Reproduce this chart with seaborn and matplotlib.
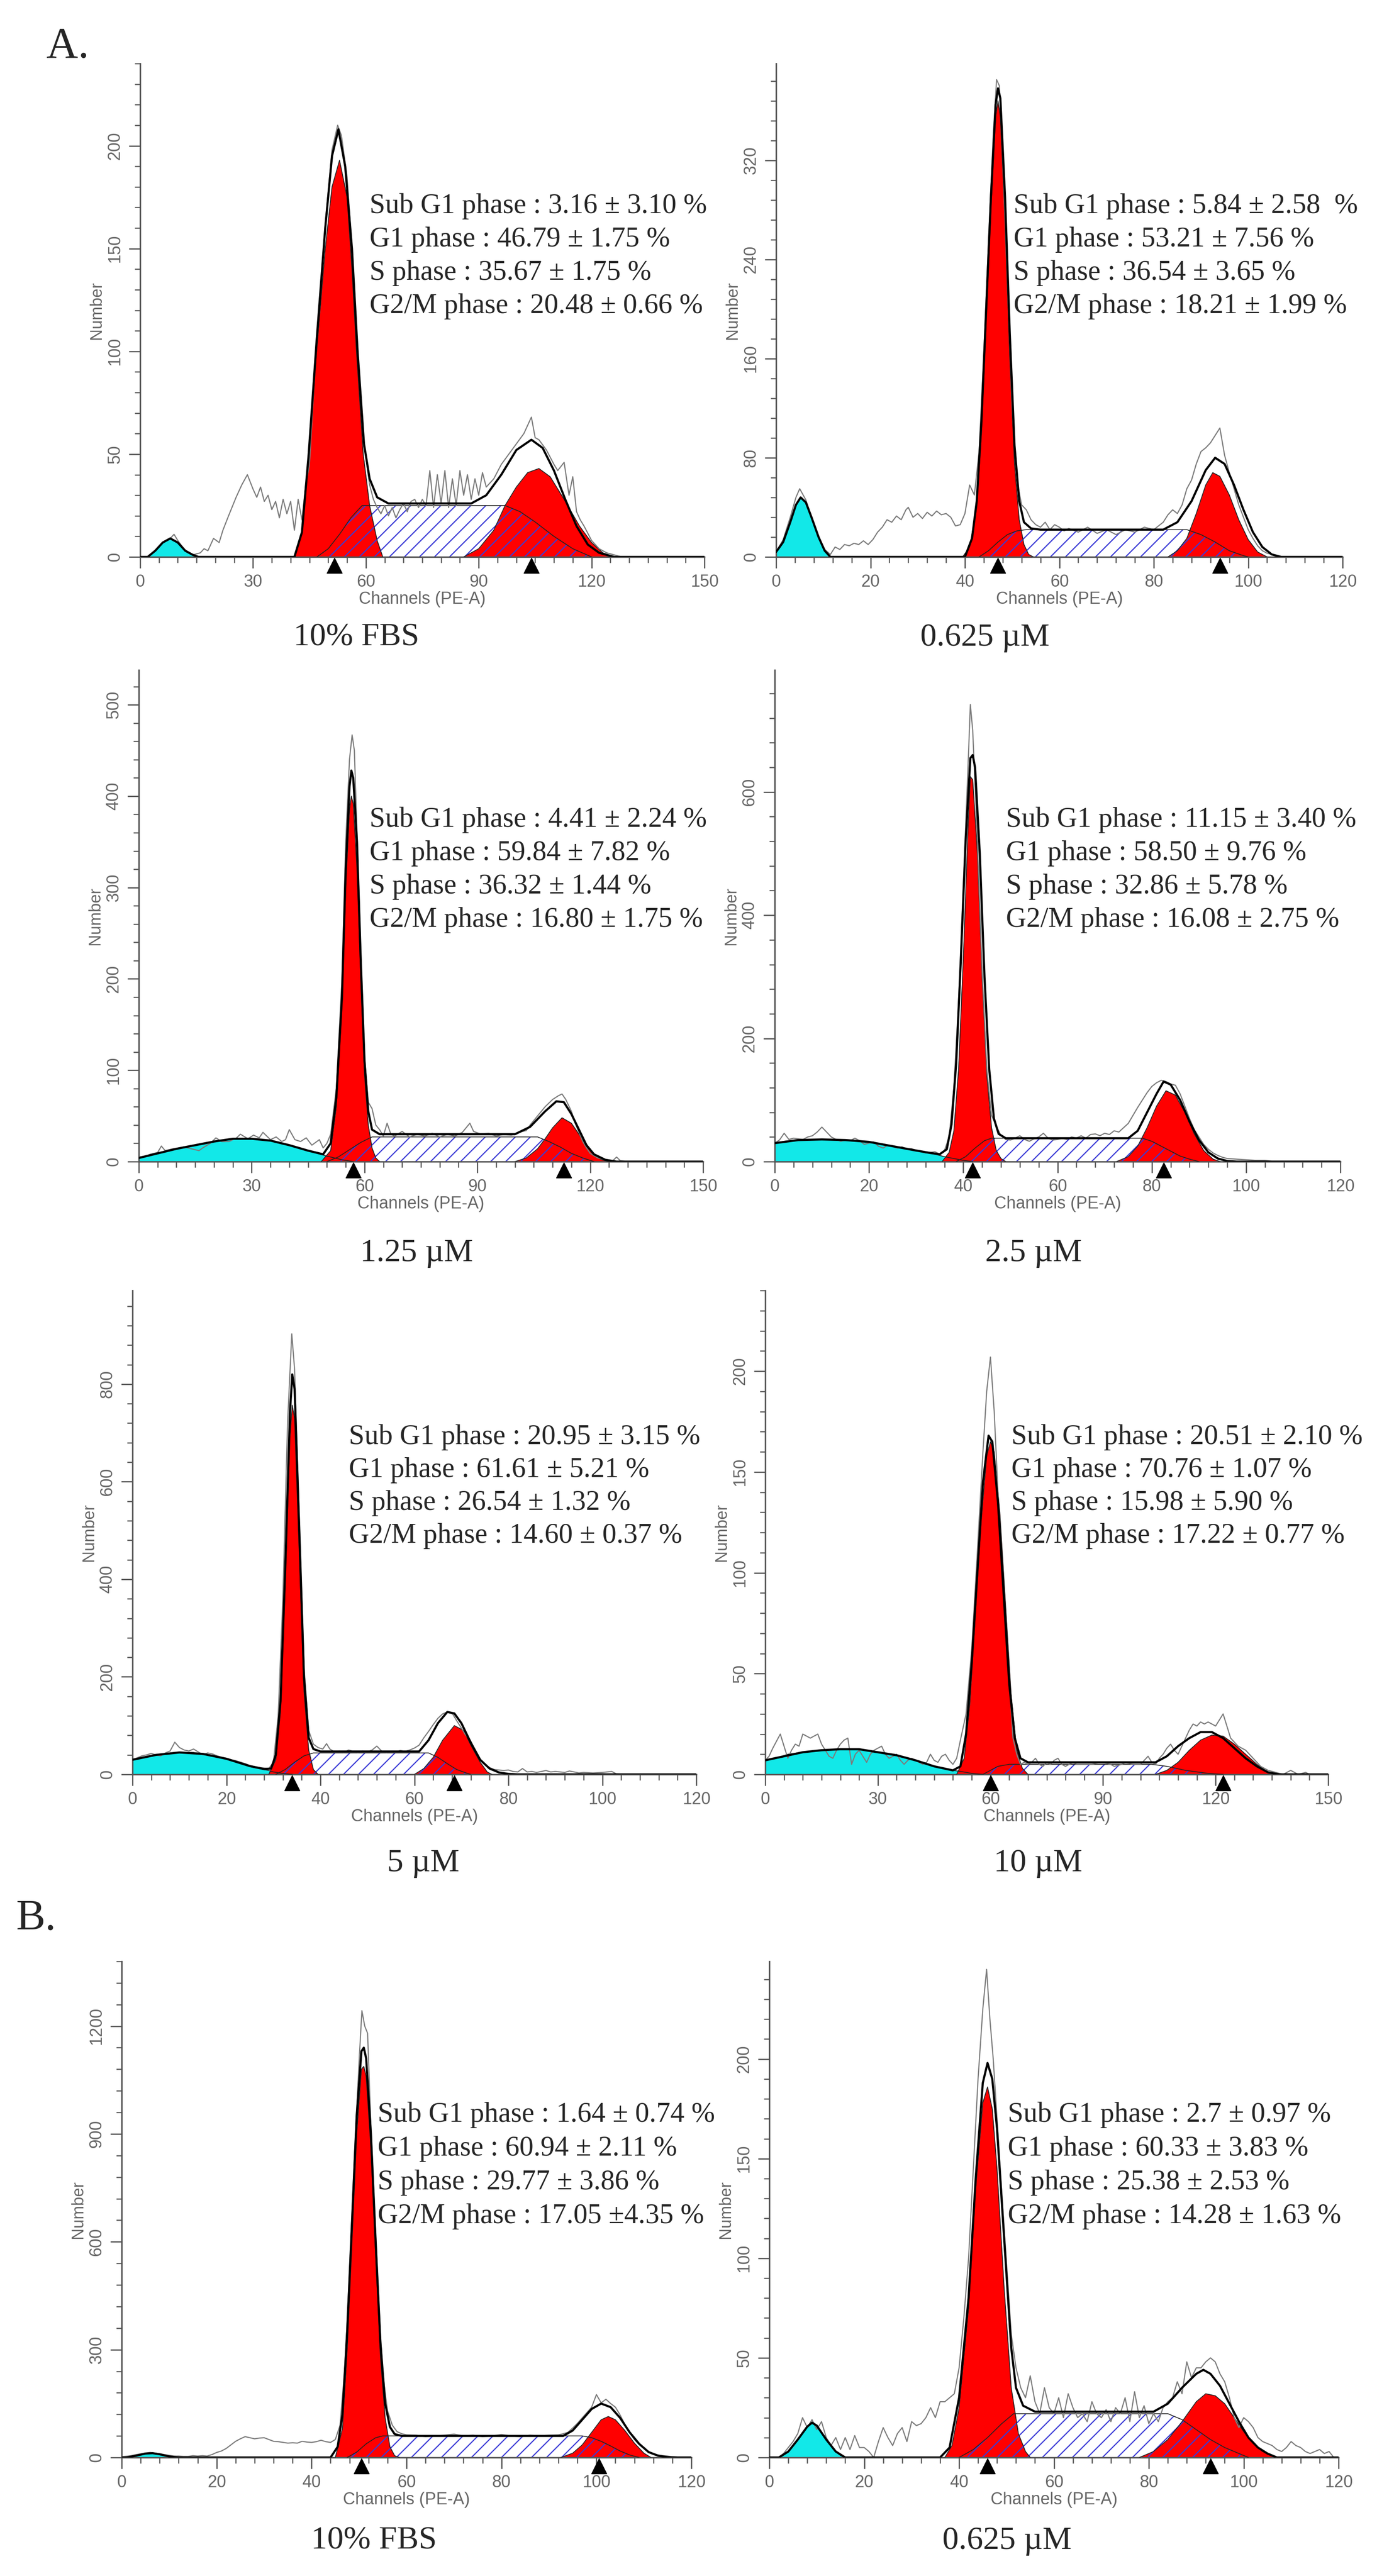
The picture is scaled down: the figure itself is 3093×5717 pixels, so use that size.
"""Cell-cycle histograms (ModFit style), panels A and B.

Writes out.png in the current folder.
"""
import matplotlib
matplotlib.use("Agg")
import matplotlib.pyplot as plt
from matplotlib.ticker import MultipleLocator
from matplotlib.transforms import offset_copy
import seaborn as sns

# ---------------- data ----------------
# A, 10% FBS
p1_raw_x = [0, 2, 4, 6, 8, 9, 10, 12, 14, 16, 17, 18, 19.5, 21, 22, 23.5, 25.5, 27, 28.5, 30,
            31, 32, 33, 34, 35, 36, 37, 38, 39, 40, 41, 42, 43, 44, 45, 46.9, 49.2, 51, 52.5, 53.5,
            55, 56.3, 57.8, 59.5, 61, 62, 63, 64, 65, 66, 67, 68, 69, 70, 71, 72, 73, 74, 75, 76,
            77, 78, 79, 80, 81, 82, 83, 84, 85, 86, 87, 88, 89, 90, 91, 92, 94, 96, 98, 100,
            102, 104, 105, 106, 108, 110, 111, 112.7, 114, 115, 116, 117, 118, 120, 122, 124, 126, 128, 150]
p1_raw_y = [0, 0, 3, 7, 9, 11, 8, 3, 1, 2, 4, 3, 9, 7, 13, 20, 29, 35, 40, 33,
            29, 34, 27, 30, 23, 27, 19, 28, 21, 27, 13, 28, 18, 35, 45, 105, 162, 198, 210, 205,
            185, 150, 100, 55, 35, 28, 24, 21, 25, 20, 24, 19, 23, 26, 22, 27, 28, 24, 28, 25,
            42, 24, 40, 26, 42, 24, 38, 25, 42, 30, 40, 28, 38, 30, 41, 34, 38, 45, 50, 55,
            60, 68, 58, 57, 52, 45, 42, 46, 30, 39, 22, 18, 15, 8, 4, 2, 1, 0, 0]
p1_fit_x = [0, 2, 4, 6, 8, 10, 12, 14, 15.5, 41, 43, 44.8, 46.9, 49.2, 51, 52.7, 54.5, 56.3, 57.8, 59.5,
            61, 63, 66, 88, 92, 96, 100, 104, 107, 110, 113, 116, 119, 122, 126, 150]
p1_fit_y = [0, 0, 3, 7, 9, 7, 3, 1, 0, 0, 12, 50, 105, 160, 195, 208, 190, 150, 100, 55,
            38, 29, 26, 26, 30, 40, 52, 57, 53, 42, 28, 15, 6, 2, 0, 0]
p1_sub_x = [2, 4, 6, 8, 10, 12, 14, 15.5]
p1_sub_y = [0, 3, 7, 9, 7, 3, 1, 0]
p1_g1_x = [41, 43, 44.8, 46.9, 49.2, 51, 53, 55, 56.3, 57.5, 59.3, 61, 63, 64.5]
p1_g1_y = [0, 12, 50, 100, 150, 180, 193, 175, 140, 100, 50, 25, 8, 0]
p1_s_x = [47, 50, 53, 56, 59, 97, 101, 105, 110, 115, 120]
p1_s_y = [0, 4, 11, 19, 25, 25, 22, 17, 10, 4, 0]
p1_g2_x = [86, 90, 94, 97, 100, 103, 106, 109, 112.7, 116.8, 120, 123, 126]
p1_g2_y = [0, 4, 13, 25, 34, 41, 43, 39, 28, 15, 7, 2, 0]
p1_peaks = [51.6, 104]

# A, 0.625 uM
p2_raw_x = [0, 1.5, 3, 4.2, 5, 6.3, 7.5, 9, 10.3, 11.5, 12.5, 13.5, 14.5, 15.5, 16.5, 17.5, 18.5, 19.5, 20.5, 21.5,
            22.5, 23.5, 24.5, 25.5, 26.5, 27.5, 28, 29, 30, 31, 32, 33, 34, 35, 36, 37, 38, 39, 40, 41,
            42, 43, 44, 45, 46, 46.7, 47.3, 48, 49, 50, 51, 52, 53, 54, 55, 56, 57, 58, 59, 60,
            61, 62, 64, 66, 68, 70, 72, 74, 76, 78, 80, 82, 83, 84, 85, 86, 87, 88, 89, 90,
            91, 92, 93, 94, 95, 96, 97, 98, 99, 100, 101, 102, 103, 104, 105, 107, 120]
p2_raw_y = [4, 14, 32, 48, 55, 46, 32, 16, 6, 2, 8, 6, 10, 9, 11, 10, 13, 10, 14, 20,
            24, 30, 28, 33, 30, 38, 40, 32, 35, 31, 36, 33, 37, 34, 35, 32, 25, 26, 35, 58,
            50, 85, 165, 255, 340, 385, 380, 320, 220, 120, 62, 42, 38, 30, 26, 24, 28, 22, 26, 24,
            21, 23, 20, 24, 19, 22, 18, 22, 20, 24, 22, 28, 34, 38, 35, 42, 55, 62, 75, 85,
            88, 92, 98, 104, 82, 68, 55, 42, 32, 22, 15, 9, 5, 3, 2, 0, 0]
p2_fit_x = [0, 1.5, 3, 4.2, 5.2, 6.3, 7.5, 9, 10.3, 11.5, 40, 41.5, 42.5, 43.5, 44.5, 45.5, 46.5, 47, 47.5, 48.5,
            49.5, 50.5, 51.5, 52.5, 54, 56, 82, 85, 88, 91, 93, 95, 97, 99, 101, 103, 105, 107, 120]
p2_fit_y = [4, 12, 28, 42, 48, 44, 32, 16, 5, 0, 0, 15, 45, 110, 200, 290, 365, 378, 370, 290,
            180, 90, 45, 28, 23, 22, 22, 28, 45, 70, 80, 75, 58, 38, 20, 8, 2, 0, 0]
p2_sub_x = [0, 1.5, 3, 4.2, 5.2, 6.3, 7.5, 9, 10.3, 11.5]
p2_sub_y = [4, 12, 28, 42, 48, 44, 32, 16, 5, 0]
p2_g1_x = [39.5, 41, 42.5, 43.5, 44.5, 45.5, 46.5, 47, 47.5, 48.5, 49.5, 50.5, 51.5, 52.5, 53.5, 54.5]
p2_g1_y = [0, 8, 40, 100, 190, 280, 355, 368, 355, 270, 160, 75, 30, 10, 2, 0]
p2_s_x = [43, 45, 47, 49, 51, 53, 87, 90, 93, 96, 99, 100]
p2_s_y = [0, 5, 12, 18, 21, 22, 22, 18, 12, 5, 1, 0]
p2_g2_x = [83, 85, 87, 89, 91, 92.5, 94, 96, 98, 100, 102, 104]
p2_g2_y = [0, 5, 15, 35, 58, 68, 65, 50, 30, 14, 4, 0]
p2_peaks = [47, 94]

# A, 1.25 uM
p3_raw_x = [0, 2, 3, 5, 6, 7, 9, 11, 12, 14, 16, 17, 19, 20.5, 22, 24, 26, 27, 29, 30.5,
            32, 33, 35, 36.5, 38, 39, 40, 41.5, 43, 44.5, 46, 48, 49, 50, 51, 52.5, 54, 55, 56, 56.7,
            57.3, 58, 59, 60, 61, 62, 63, 64, 65, 66, 67, 68, 70, 72, 74, 76, 78, 80, 82, 84,
            86, 88, 89, 91, 93, 95, 97, 99, 101, 103, 104, 106, 108, 110, 111.5, 112.5, 113.5, 115, 116, 117,
            118, 119, 120, 122, 124, 126, 127, 128, 130, 150]
p3_raw_y = [5, 6, 8, 10, 17, 12, 14, 15, 16, 14, 12, 15, 20, 26, 22, 22, 26, 30, 25, 29,
            26, 32, 24, 27, 22, 24, 35, 24, 22, 26, 18, 24, 15, 20, 30, 80, 200, 350, 440, 467,
            450, 360, 230, 115, 65, 58, 40, 35, 28, 42, 30, 28, 33, 27, 30, 28, 31, 27, 30, 28,
            32, 42, 33, 30, 31, 28, 30, 29, 32, 34, 40, 50, 60, 68, 72, 74, 68, 55, 42, 32,
            22, 15, 9, 4, 2, 1, 5, 1, 0, 0]
p3_fit_x = [0, 5, 10, 15, 20, 25, 30, 35, 40, 45, 49, 51, 52.5, 54, 55, 56, 56.5, 57, 58, 59,
            60, 61, 62, 64, 100, 104, 108, 111, 113, 115, 117, 119, 121, 124, 127, 150]
p3_fit_y = [4, 9, 14, 18, 22, 25, 25, 23, 18, 12, 8, 20, 70, 180, 320, 410, 428, 420, 350, 220,
            110, 55, 35, 30, 30, 38, 55, 66, 65, 52, 35, 18, 8, 2, 0, 0]
p3_sub_x = [0, 5, 10, 15, 20, 25, 30, 35, 40, 45, 50, 54, 57]
p3_sub_y = [4, 9, 14, 18, 22, 25, 25, 23, 18, 12, 6, 2, 0]
p3_g1_x = [48.5, 51, 52.5, 54, 55, 56, 56.5, 57, 58, 59, 60, 61, 62, 63, 64]
p3_g1_y = [0, 12, 60, 170, 300, 385, 400, 392, 320, 200, 95, 40, 15, 4, 0]
p3_s_x = [50, 53, 56, 59, 62, 106, 109, 112, 115, 118, 121]
p3_s_y = [0, 5, 13, 21, 27, 27, 22, 16, 9, 4, 0]
p3_g2_x = [100, 103, 106, 108, 110, 112.5, 115, 117, 119, 121, 123, 125]
p3_g2_y = [0, 4, 14, 25, 37, 48, 42, 30, 17, 7, 2, 0]
p3_peaks = [57, 113]

# A, 2.5 uM
p4_raw_x = [0, 1, 2, 3, 4, 5, 6, 7, 8, 9, 10, 11, 12, 13, 14, 15, 16, 17, 18, 19,
            20, 21, 22, 23, 24, 25, 26, 27, 28, 29, 30, 31, 32, 33, 34, 35, 36, 37, 38, 39,
            40, 41, 41.5, 42, 43, 44, 45, 46, 47, 48, 49, 50, 51, 52, 53, 54, 55, 56, 57, 58,
            59, 60, 61, 62, 63, 64, 65, 66, 67, 68, 69, 70, 71, 72, 73, 74, 75, 76, 77, 78,
            79, 80, 81, 82, 83, 84, 85, 86, 87, 88, 89, 90, 91, 92, 93, 94, 95, 96, 98, 100,
            102, 104, 106, 110, 120]
p4_raw_y = [30, 35, 46, 36, 38, 37, 36, 40, 42, 48, 56, 48, 40, 36, 33, 35, 34, 38, 34, 28,
            30, 32, 25, 22, 27, 25, 22, 24, 20, 21, 18, 17, 14, 15, 16, 12, 18, 40, 120, 260,
            450, 640, 742, 700, 520, 310, 150, 75, 58, 42, 36, 35, 38, 42, 36, 33, 37, 40, 46, 38,
            35, 36, 38, 36, 40, 38, 42, 38, 44, 45, 42, 46, 44, 50, 48, 55, 62, 75, 88, 100,
            112, 122, 128, 132, 130, 126, 124, 110, 90, 70, 52, 40, 28, 20, 14, 10, 7, 5, 4, 3,
            2, 2, 0, 0, 0]
p4_fit_x = [0, 5, 10, 15, 20, 25, 30, 33, 35, 36.5, 37.5, 38.5, 39.5, 40.5, 41.5, 42, 42.5, 43.5, 44.5, 45.5,
            46.5, 47.5, 49, 75, 77, 79, 81, 82.5, 84, 86, 88, 90, 92, 94, 96, 98, 120]
p4_fit_y = [30, 35, 36, 35, 32, 25, 18, 14, 12, 20, 60, 160, 330, 520, 655, 660, 640, 500, 300, 150,
            70, 45, 38, 38, 50, 80, 110, 130, 125, 100, 65, 35, 15, 5, 1, 0, 0]
p4_sub_x = [0, 2, 5, 10, 15, 20, 25, 30, 33, 35, 36, 38, 40, 42]
p4_sub_y = [30, 33, 35, 36, 35, 32, 25, 18, 14, 10, 8, 5, 2, 0]
p4_g1_x = [35.5, 37, 38, 39, 40, 41, 41.5, 42, 43, 44, 45, 46, 47, 48, 49]
p4_g1_y = [0, 15, 50, 150, 330, 540, 625, 620, 500, 300, 140, 55, 18, 5, 0]
p4_s_x = [38.5, 40.5, 42.5, 44.5, 46, 78, 80, 82, 84, 86, 88, 90]
p4_s_y = [0, 8, 22, 34, 38, 38, 33, 25, 17, 9, 4, 0]
p4_g2_x = [72.5, 75, 77, 79, 81, 83, 85, 87, 89, 91, 93, 94.5]
p4_g2_y = [0, 8, 25, 55, 90, 115, 108, 80, 45, 18, 4, 0]
p4_peaks = [42, 82.5]

# A, 5 uM
p5_raw_x = [0, 1, 2, 3, 4, 5, 6, 7, 8, 9, 10, 11, 12, 13, 14, 15, 16, 17, 18, 19,
            20, 21, 22, 23, 24, 25, 26, 27, 28, 29, 30, 31, 32, 33, 33.9, 34.5, 35.5, 36.5, 37.5, 38.5,
            39.5, 40.5, 41.3, 42, 43, 44, 45, 46, 47, 48, 49, 50, 51, 52, 53, 54, 55, 56, 57, 58,
            59, 60, 61, 62, 63, 64, 65, 66, 67, 68, 69, 70, 70.8, 71.5, 72, 73, 74, 75, 76, 77,
            78, 79, 80, 81, 82, 83, 84, 85, 86, 88, 89, 90, 92, 93, 95, 96, 98, 100, 102, 103,
            105, 120]
p5_raw_y = [30, 34, 38, 40, 43, 40, 38, 44, 48, 66, 55, 50, 48, 52, 46, 40, 44, 42, 38, 35,
            33, 30, 28, 25, 22, 18, 16, 14, 13, 12, 25, 120, 360, 720, 903, 830, 520, 220, 90, 62,
            55, 52, 63, 52, 46, 48, 45, 50, 47, 45, 48, 46, 50, 58, 48, 45, 47, 46, 49, 47,
            50, 54, 60, 75, 88, 102, 115, 124, 128, 126, 110, 95, 82, 75, 68, 48, 30, 20, 14, 10,
            9, 8, 9, 6, 5, 12, 5, 6, 4, 8, 5, 6, 4, 7, 3, 4, 3, 4, 6, 1,
            0, 0]
p5_fit_x = [0, 5, 10, 15, 20, 25, 28, 29.5, 30.5, 31.5, 32.5, 33.5, 34, 34.5, 35.5, 36.5, 37.5, 38.5, 40, 61,
            63, 65, 67, 68.5, 70, 72, 74, 76, 78, 80, 82, 120]
p5_fit_y = [30, 40, 45, 42, 32, 17, 11, 12, 40, 150, 420, 740, 820, 790, 500, 200, 75, 52, 47, 47,
            70, 105, 128, 125, 105, 65, 30, 12, 4, 1, 0, 0]
p5_sub_x = [0, 2, 5, 8, 10, 13, 15, 18, 20, 23, 25, 27, 28, 29, 30, 32, 34]
p5_sub_y = [30, 35, 40, 43, 45, 45, 42, 38, 32, 22, 16, 12, 10, 8, 5, 2, 0]
p5_g1_x = [29, 30.5, 31.5, 32.5, 33.5, 34, 34.5, 35.5, 36.5, 37.5, 38.5, 39.5]
p5_g1_y = [0, 30, 130, 390, 690, 757, 730, 450, 170, 50, 10, 0]
p5_s_x = [30.5, 32.5, 34.5, 36.5, 38.5, 63, 65, 67, 69, 71, 72]
p5_s_y = [0, 10, 25, 38, 44, 44, 35, 22, 10, 3, 0]
p5_g2_x = [60, 62, 64, 66, 68.5, 70.5, 72, 74, 75.5, 76.5]
p5_g2_y = [0, 12, 35, 70, 100, 90, 60, 25, 5, 0]
p5_peaks = [34, 68.5]

# A, 10 uM
p6_raw_x = [0, 1, 2, 4, 5, 6, 7, 8, 9, 10, 11, 12, 13, 14, 15, 16, 17, 18, 19, 20,
            21, 22, 23, 24, 25, 26, 27, 28, 29, 30, 31, 32, 33, 34, 35, 36, 37, 38, 39, 40,
            41, 42, 43, 44, 45, 46, 47, 48, 49, 50, 51, 52, 53.5, 55, 56.5, 58, 59, 60, 61, 62,
            63.5, 65, 66, 67, 68, 69, 70, 71, 72, 73, 74, 75, 76, 77, 78, 79, 80, 82, 83, 85,
            87, 89, 90, 92, 93, 95, 96, 98, 100, 101, 102, 103, 104, 105, 106, 107, 108, 109, 110, 111,
            112, 113, 114, 115, 116, 117, 118, 119, 120, 121, 122, 123, 124, 125, 126, 127, 128, 129, 130, 131,
            132, 133, 134, 136, 138, 140, 141, 142, 144, 145, 148]
p6_raw_y = [7, 9, 13, 20, 14, 8, 12, 15, 14, 20, 19, 18, 19, 20, 15, 12, 9, 8, 12, 15,
            17, 18, 5, 10, 12, 9, 6, 10, 12, 13, 14, 10, 8, 9, 10, 7, 5, 7, 8, 7,
            6, 5, 6, 10, 7, 6, 9, 10, 7, 5, 8, 17, 30, 62, 110, 160, 190, 207, 180, 140,
            92, 48, 18, 10, 5, 6, 5, 6, 8, 5, 4, 6, 5, 7, 8, 5, 4, 6, 5, 5,
            5, 6, 6, 5, 4, 5, 6, 5, 5, 7, 9, 6, 5, 8, 10, 13, 15, 12, 10, 14,
            18, 22, 25, 24, 26, 25, 26, 25, 24, 27, 30, 24, 18, 16, 14, 13, 12, 10, 8, 6,
            4, 3, 2, 1, 0, 2, 1, 0, 1, 0, 0]
p6_fit_x = [0, 5, 10, 15, 20, 25, 30, 35, 40, 45, 50, 52, 53.5, 55, 56.5, 58, 59.5, 60.5, 62, 63.5,
            65, 66.5, 68, 70, 104, 107, 110, 113, 116, 119, 122, 125, 128, 131, 134, 137, 150]
p6_fit_y = [7, 9, 11, 12, 12.5, 12.5, 11, 9.5, 7, 4, 2, 4, 20, 55, 100, 145, 168, 165, 135, 90,
            45, 18, 8, 6, 6, 9, 14, 18, 21, 21, 18, 13, 8, 4, 1, 0, 0]
p6_sub_x = [0, 3, 6, 10, 15, 20, 25, 30, 35, 40, 45, 50, 52, 55, 58]
p6_sub_y = [7, 8, 10, 11, 12, 12.5, 12.5, 11, 9.5, 7, 4, 2, 1.5, 0.5, 0]
p6_g1_x = [51, 53, 54.5, 56, 57.5, 59, 60, 61, 62.5, 64, 65.5, 67, 68.5, 70]
p6_g1_y = [0, 8, 35, 80, 125, 158, 165, 160, 130, 85, 40, 12, 3, 0]
p6_s_x = [58, 62, 65, 103, 107, 112, 118, 122]
p6_s_y = [0, 4, 5, 5, 4, 2, 0.5, 0]
p6_g2_x = [104, 107, 110, 113, 116, 119, 122, 125, 128, 131, 134, 136]
p6_g2_y = [0, 2, 6, 12, 17, 19.5, 19, 15, 10, 5, 1, 0]
p6_peaks = [60, 122]

# B, 10% FBS
p7_raw_x = [0, 2, 3, 4, 5, 6, 7, 8, 9, 10, 11, 12, 13, 14, 15, 16, 17, 18, 19, 20,
            21, 22, 23, 24, 25, 26, 27, 28, 29, 30, 31, 32, 33, 34, 35, 36, 37, 38, 39, 40,
            41, 42, 43, 44, 45, 46, 47, 48, 49, 50, 50.6, 51.2, 51.8, 52.5, 53.5, 54.5, 55, 55.5, 56, 57,
            58, 59, 60, 62, 64, 66, 68, 70, 72, 74, 76, 78, 80, 82, 84, 86, 88, 90, 92, 93,
            94, 95, 96, 97, 98, 99, 100, 101, 102, 103, 104, 105, 106, 107, 108, 109, 110, 111, 112, 113,
            114, 115, 116, 118, 120]
p7_raw_y = [2, 5, 8, 10, 12, 14, 12, 10, 8, 6, 4, 4, 3, 3, 5, 4, 5, 4, 8, 14,
            18, 25, 35, 45, 52, 58, 55, 52, 54, 55, 50, 45, 44, 42, 40, 41, 40, 45, 43, 42,
            44, 48, 44, 42, 50, 90, 250, 520, 830, 1100, 1243, 1200, 1180, 920, 620, 340, 240, 180, 130, 90,
            72, 66, 63, 62, 58, 60, 62, 65, 60, 62, 58, 60, 64, 60, 58, 62, 60, 62, 63, 66,
            70, 82, 95, 110, 125, 140, 175, 152, 162, 150, 140, 118, 92, 70, 50, 36, 25, 16, 10, 7,
            5, 4, 2, 0, 0]
p7_fit_x = [0, 1, 3, 5, 6.5, 8, 10, 12, 44, 45.5, 46.5, 47.5, 48.5, 49.5, 50.5, 51, 51.5, 52.5, 53.5, 54.5,
            55.5, 56.5, 57.5, 59, 93, 95, 97, 99, 101, 103, 105, 107, 109, 111, 113, 115, 117, 120]
p7_fit_y = [0, 0, 5, 11, 12, 9, 3, 0, 0, 30, 120, 350, 650, 950, 1130, 1140, 1110, 900, 600, 320,
            150, 85, 65, 60, 60, 75, 105, 135, 150, 140, 110, 70, 38, 15, 5, 1, 0, 0]
p7_sub_x = [1, 3, 5, 6.5, 8, 10, 12]
p7_sub_y = [0, 5, 11, 12, 9, 3, 0]
p7_g1_x = [45, 46.5, 47.5, 48.5, 49.5, 50.5, 51, 51.5, 52.5, 53.5, 54.5, 55.5, 56.5, 57.5, 58.5]
p7_g1_y = [0, 80, 300, 600, 900, 1080, 1088, 1060, 860, 560, 280, 110, 30, 5, 0]
p7_s_x = [47.5, 49.5, 51.5, 53.5, 55, 97, 99, 101, 103, 105, 107, 109]
p7_s_y = [0, 15, 38, 55, 60, 60, 55, 45, 32, 18, 7, 0]
p7_g2_x = [92.5, 95, 97, 99, 101, 102.5, 104, 106, 108, 110, 111.5]
p7_g2_y = [0, 12, 35, 70, 105, 114, 105, 75, 40, 12, 0]
p7_peaks = [50.5, 100.5]

# B, 0.625 uM
p8_raw_x = [0, 2, 3, 4, 5, 6, 7, 8, 9, 10, 11, 12, 13, 14, 15, 16, 17, 18, 19, 20,
            21, 22, 23, 24, 25, 26, 27, 28, 29, 30, 31, 32, 33, 34, 35, 36, 37, 38, 39, 40,
            41, 42, 43, 44, 45, 45.8, 46.5, 47.2, 48, 49.5, 51, 52, 53, 54, 55, 56, 57, 58, 59, 60,
            61, 62, 63, 64, 65, 66, 67, 68, 69, 70, 71, 72, 73, 74, 75, 76, 77, 78, 79, 80,
            81, 82, 83, 84, 85, 86, 87, 88, 89, 90, 91, 92, 93, 94, 95, 96, 97, 98, 99, 100,
            101, 102, 103, 104, 105, 106, 107, 108, 109, 110, 111, 112, 113, 114, 115, 116, 117, 118, 119, 120]
p8_raw_y = [0, 0, 2, 5, 8, 12, 20, 15, 19, 14, 18, 10, 6, 10, 4, 10, 4, 11, 5, 5,
            3, 0, 8, 15, 10, 6, 12, 15, 8, 18, 16, 17, 20, 25, 20, 28, 28, 30, 32, 45,
            70, 100, 145, 190, 225, 245, 220, 200, 170, 115, 62, 45, 35, 30, 41, 28, 22, 35, 25, 22,
            30, 20, 32, 25, 20, 22, 18, 28, 22, 20, 24, 18, 25, 22, 30, 18, 33, 20, 26, 17,
            22, 18, 25, 28, 30, 38, 32, 48, 40, 45, 45, 48, 50, 48, 42, 38, 30, 20, 15, 20,
            18, 15, 10, 8, 7, 6, 4, 3, 5, 8, 6, 5, 3, 2, 3, 4, 2, 3, 0, 0]
p8_fit_x = [0, 2, 4, 6, 8, 9, 10, 12, 14, 16, 36, 38, 40, 42, 43.5, 45, 46, 47, 48, 49.5,
            51, 52, 53.5, 56, 81, 84, 87, 90, 91.5, 93, 95, 97, 99, 101, 103, 105, 107, 120]
p8_fit_y = [0, 0, 3, 9, 15.5, 17.5, 16, 9, 3, 0, 0, 5, 30, 80, 140, 188, 198, 190, 165, 110,
            55, 35, 26, 23, 23, 27, 35, 42, 44, 42, 36, 27, 18, 10, 5, 2, 0, 0]
p8_sub_x = [2, 4, 6, 8, 9, 10, 12, 14, 15, 16]
p8_sub_y = [0, 3, 9, 15.5, 17, 16, 9, 3, 1, 0]
p8_g1_x = [37, 38.5, 40, 42, 43.5, 45, 46, 47, 48, 49.5, 51, 52.5, 54, 55]
p8_g1_y = [0, 6, 25, 75, 135, 178, 186, 175, 145, 85, 35, 12, 3, 0]
p8_s_x = [40, 43, 46, 49, 51.5, 84, 87, 90, 93, 96, 99, 101]
p8_s_y = [0, 4, 10, 17, 22, 22, 19, 14, 9, 5, 2, 0]
p8_g2_x = [78, 81, 84, 87, 90, 92, 94, 96, 98, 100, 102, 104, 106, 107]
p8_g2_y = [0, 3, 9, 18, 28, 32, 31, 27, 20, 13, 7, 3, 1, 0]
p8_peaks = [46, 93]

# axis ranges and tick steps: (x max, x major, x minor, y max, y major, y minor)
axis_specs = [
    (150, 30, 5, 240, 50, 10),
    (120, 20, 4, 398, 80, 16),
    (150, 30, 5, 538, 100, 20),
    (120, 20, 4, 798, 200, 40),
    (120, 20, 4, 992, 200, 40),
    (150, 30, 5, 240, 50, 10),
    (120, 20, 4, 1380, 300, 60),
    (120, 20, 4, 249, 50, 10),
]

captions = ["10% FBS", "0.625 \u00b5M", "1.25 \u00b5M", "2.5 \u00b5M",
            "5 \u00b5M", "10 \u00b5M", "10% FBS", "0.625 \u00b5M"]

phase_text = [
    ["Sub G1 phase : 3.16 \u00b1 3.10 %", "G1 phase : 46.79 \u00b1 1.75 %",
     "S phase : 35.67 \u00b1 1.75 %", "G2/M phase : 20.48 \u00b1 0.66 %"],
    ["Sub G1 phase : 5.84 \u00b1 2.58  %", "G1 phase : 53.21 \u00b1 7.56 %",
     "S phase : 36.54 \u00b1 3.65 %", "G2/M phase : 18.21 \u00b1 1.99 %"],
    ["Sub G1 phase : 4.41 \u00b1 2.24 %", "G1 phase : 59.84 \u00b1 7.82 %",
     "S phase : 36.32 \u00b1 1.44 %", "G2/M phase : 16.80 \u00b1 1.75 %"],
    ["Sub G1 phase : 11.15 \u00b1 3.40 %", "G1 phase : 58.50 \u00b1 9.76 %",
     "S phase : 32.86 \u00b1 5.78 %", "G2/M phase : 16.08 \u00b1 2.75 %"],
    ["Sub G1 phase : 20.95 \u00b1 3.15 %", "G1 phase : 61.61 \u00b1 5.21 %",
     "S phase : 26.54 \u00b1 1.32 %", "G2/M phase : 14.60 \u00b1 0.37 %"],
    ["Sub G1 phase : 20.51 \u00b1 2.10 %", "G1 phase : 70.76 \u00b1 1.07 %",
     "S phase : 15.98 \u00b1 5.90 %", "G2/M phase : 17.22 \u00b1 0.77 %"],
    ["Sub G1 phase : 1.64 \u00b1 0.74 %", "G1 phase : 60.94 \u00b1 2.11 %",
     "S phase : 29.77 \u00b1 3.86 %", "G2/M phase : 17.05 \u00b14.35 %"],
    ["Sub G1 phase : 2.7 \u00b1 0.97 %", "G1 phase : 60.33 \u00b1 3.83 %",
     "S phase : 25.38 \u00b1 2.53 %", "G2/M phase : 14.28 \u00b1 1.63 %"],
]

panels = [
    (p1_raw_x, p1_raw_y, p1_fit_x, p1_fit_y, p1_sub_x, p1_sub_y, p1_g1_x, p1_g1_y, p1_s_x, p1_s_y, p1_g2_x, p1_g2_y, p1_peaks),
    (p2_raw_x, p2_raw_y, p2_fit_x, p2_fit_y, p2_sub_x, p2_sub_y, p2_g1_x, p2_g1_y, p2_s_x, p2_s_y, p2_g2_x, p2_g2_y, p2_peaks),
    (p3_raw_x, p3_raw_y, p3_fit_x, p3_fit_y, p3_sub_x, p3_sub_y, p3_g1_x, p3_g1_y, p3_s_x, p3_s_y, p3_g2_x, p3_g2_y, p3_peaks),
    (p4_raw_x, p4_raw_y, p4_fit_x, p4_fit_y, p4_sub_x, p4_sub_y, p4_g1_x, p4_g1_y, p4_s_x, p4_s_y, p4_g2_x, p4_g2_y, p4_peaks),
    (p5_raw_x, p5_raw_y, p5_fit_x, p5_fit_y, p5_sub_x, p5_sub_y, p5_g1_x, p5_g1_y, p5_s_x, p5_s_y, p5_g2_x, p5_g2_y, p5_peaks),
    (p6_raw_x, p6_raw_y, p6_fit_x, p6_fit_y, p6_sub_x, p6_sub_y, p6_g1_x, p6_g1_y, p6_s_x, p6_s_y, p6_g2_x, p6_g2_y, p6_peaks),
    (p7_raw_x, p7_raw_y, p7_fit_x, p7_fit_y, p7_sub_x, p7_sub_y, p7_g1_x, p7_g1_y, p7_s_x, p7_s_y, p7_g2_x, p7_g2_y, p7_peaks),
    (p8_raw_x, p8_raw_y, p8_fit_x, p8_fit_y, p8_sub_x, p8_sub_y, p8_g1_x, p8_g1_y, p8_s_x, p8_s_y, p8_g2_x, p8_g2_y, p8_peaks),
]

# ---------------- layout (pixels of the 3093 x 5717 canvas) ----------------
W, H = 3093, 5717
# axes boxes: left, right, top, bottom
boxes = [(311, 1563, 141, 1236), (1722, 2979, 141, 1236),
         (308, 1560, 1487, 2578), (1719, 2974, 1487, 2578),
         (294, 1545, 2864, 3938), (1698, 2947, 2864, 3938),
         (270, 1534, 4353, 5454), (1707, 2970, 4353, 5454)]
# first text line: left x, centre y, line step
text_pos = [(820, 458, 74), (2249, 458, 74), (820, 1820, 74), (2232, 1820, 74),
            (774, 3190, 73), (2244, 3190, 73), (838, 4694, 75), (2236, 4694, 75)]
caption_pos = [(791, 1415), (2185, 1415), (924, 2782), (2293, 2782),
               (939, 4135), (2303, 4135), (830, 5639), (2234, 5639)]

RED = "#ff0000"
CYAN = "#12e8e8"
BLUE = "#3b3bd6"
GREY = "#666666"
SERIF = ["Liberation Serif", "DejaVu Serif"]

sns.set_style("ticks")
plt.rcParams["font.family"] = ["Liberation Sans", "DejaVu Sans"]
plt.rcParams["hatch.linewidth"] = 1.8

fig = plt.figure(figsize=(W / 100, H / 100), dpi=100)


def draw_panel(ax, data, spec):
    raw_x, raw_y, fit_x, fit_y, sub_x, sub_y, g1_x, g1_y, s_x, s_y, g2_x, g2_y, peaks = data
    xmax, xmaj, xmin, ymax, ymaj, ymin = spec

    ax.fill_between(sub_x, sub_y, 0, color=CYAN, lw=0, zorder=1)
    ax.fill_between(g1_x, g1_y, 0, color=RED, lw=0, zorder=1)
    ax.fill_between(g2_x, g2_y, 0, color=RED, lw=0, zorder=1)
    ax.fill_between(s_x, s_y, 0, facecolor="none", edgecolor=BLUE,
                    hatch="/", lw=0, zorder=2)
    for cx, cy in [(sub_x, sub_y), (g1_x, g1_y), (g2_x, g2_y), (s_x, s_y)]:
        ax.plot(cx, cy, color="#222222", lw=1.3, zorder=3)

    sns.lineplot(x=raw_x, y=raw_y, ax=ax, color="#7c7c7c", lw=1.8,
                 estimator=None, sort=False, zorder=4)
    sns.lineplot(x=fit_x, y=fit_y, ax=ax, color="black", lw=3.4,
                 estimator=None, sort=False, zorder=5)

    # peak markers under the axis
    tri = offset_copy(ax.transData, fig=fig, y=-19, units="dots")
    ax.plot(peaks, [0] * len(peaks), ls="none", marker="^", ms=25,
            color="black", transform=tri, clip_on=False, zorder=10)

    ax.set_xlim(0, xmax)
    ax.set_ylim(0, ymax)
    ax.xaxis.set_major_locator(MultipleLocator(xmaj))
    ax.xaxis.set_minor_locator(MultipleLocator(xmin))
    ax.yaxis.set_major_locator(MultipleLocator(ymaj))
    ax.yaxis.set_minor_locator(MultipleLocator(ymin))
    ax.tick_params(which="major", direction="out", length=18, width=2,
                   color="#555555", labelcolor=GREY, labelsize=27, pad=9)
    ax.tick_params(which="minor", direction="out", length=9, width=1.8,
                   color="#555555")
    plt.setp(ax.get_yticklabels(), rotation=90, va="center")
    ax.set_xlabel("Channels (PE-A)", fontsize=27, color=GREY, labelpad=2)
    ax.set_ylabel("Number", fontsize=26, color=GREY, labelpad=4)
    sns.despine(ax=ax)
    for side in ("left", "bottom"):
        ax.spines[side].set_color("#555555")
        ax.spines[side].set_linewidth(2.4)


for i, (l, r, t, b) in enumerate(boxes):
    ax = fig.add_axes([l / W, 1 - b / H, (r - l) / W, (b - t) / H])
    draw_panel(ax, panels[i], axis_specs[i])

    tx, ty, step = text_pos[i]
    for k, line in enumerate(phase_text[i]):
        fig.text(tx / W, 1 - (ty + k * step) / H, line, fontsize=45,
                 family=SERIF, ha="left", va="center")
    cx, cy = caption_pos[i]
    fig.text(cx / W, 1 - cy / H, captions[i], fontsize=52, family=SERIF,
             ha="center", va="center")

fig.text(150 / W, 1 - 105 / H, "A.", fontsize=70, family=SERIF, ha="center", va="center")
fig.text(80 / W, 1 - 4260 / H, "B.", fontsize=70, family=SERIF, ha="center", va="center")

fig.savefig("out.png", dpi=100)
print("Saved: out.png")
